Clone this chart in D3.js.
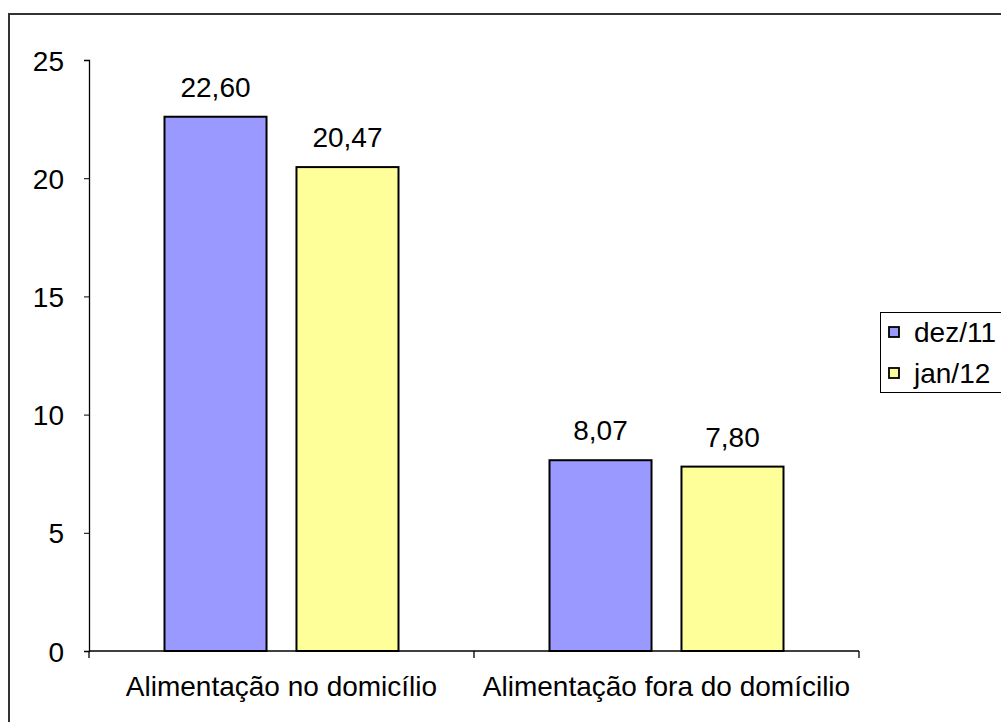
<!DOCTYPE html>
<html><head><meta charset="utf-8">
<script src="https://cdn.jsdelivr.net/npm/d3@7"></script>
<style>body{margin:0;background:#fff}svg{display:block}text{font-family:"Liberation Sans",Arial,sans-serif}</style>
</head><body>
<svg id="c" width="1001" height="722"></svg>
<script>
const categories = ["Alimentação no domicílio", "Alimentação fora do domícilio"];
const seriesNames = ["dez/11", "jan/12"];
const dez11 = [22.60, 8.07];
const jan12 = [20.47, 7.80];
const yTicks = [0, 5, 10, 15, 20, 25];
const colors = ["#9999ff", "#ffff99"];
const FS = 28;

const svg = d3.select("#c");
// outer frame
svg.append("rect").attr("x", 9).attr("y", 14).attr("width", 1010).attr("height", 720)
  .attr("fill", "none").attr("stroke", "#333").attr("stroke-width", 2);

const mLeft = 89, mRight = 859, mTop = 60, mBottom = 651;
const x0 = d3.scaleBand().domain(categories).range([mLeft, mRight]).paddingInner(0).paddingOuter(0);
const x1 = d3.scaleBand().domain(seriesNames).range([75.5, x0.bandwidth() - 75.5]).paddingInner(0.227);
const y = d3.scaleLinear().domain([0, 25]).range([mBottom, mTop]);

const series = [dez11, jan12];
const g = svg.append("g");
categories.forEach((c, i) => {
  series.forEach((s, j) => {
    const bx = x0(c) + x1(seriesNames[j]);
    g.append("rect").attr("x", bx).attr("y", y(s[i])).attr("width", x1.bandwidth())
      .attr("height", y(0) - y(s[i])).attr("fill", colors[j]).attr("stroke", "#000").attr("stroke-width", 2);
    g.append("text").attr("x", bx + x1.bandwidth() / 2).attr("y", y(s[i]) - 20)
      .attr("text-anchor", "middle").attr("font-size", FS).attr("fill", "#000")
      .text(d3.format(".2f")(s[i]).replace(".", ","));
  });
});

// y axis
const ya = svg.append("g").attr("transform", `translate(${mLeft},0)`)
  .call(d3.axisLeft(y).tickValues(yTicks).tickSize(5).tickPadding(20).tickFormat(d => d));
ya.attr("font-size", FS).attr("font-family", null);
ya.selectAll("text").attr("font-size", FS).attr("fill", "#000").attr("dy", "0.36em");
ya.select(".domain").attr("stroke", "#000").attr("stroke-width", 1.3);
ya.selectAll(".tick line").attr("stroke", "#000");

// x axis
const xa = svg.append("g").attr("transform", `translate(0,${mBottom})`);
xa.append("line").attr("x1", mLeft).attr("x2", mRight).attr("y1", 0).attr("y2", 0).attr("stroke", "#000").attr("stroke-width", 1.3);
[mLeft, ...categories.map(c => x0(c) + x0.bandwidth())].forEach(t => {
  xa.append("line").attr("x1", t).attr("x2", t).attr("y1", 0).attr("y2", 7).attr("stroke", "#000").attr("stroke-width", 1.3);
});
categories.forEach(c => {
  xa.append("text").attr("x", x0(c) + x0.bandwidth() / 2).attr("y", 45).attr("text-anchor", "middle")
    .attr("font-size", FS).attr("fill", "#000").text(c);
});

// legend
const lg = svg.append("g");
lg.append("rect").attr("x", 880.5).attr("y", 312.5).attr("width", 130).attr("height", 80)
  .attr("fill", "#fff").attr("stroke", "#000").attr("stroke-width", 1);
seriesNames.forEach((n, i) => {
  const yy = 332 + i * 41;
  lg.append("rect").attr("x", 889).attr("y", yy - 5).attr("width", 10).attr("height", 10)
    .attr("fill", colors[i]).attr("stroke", "#000").attr("stroke-width", 1.8);
  lg.append("text").attr("x", 914).attr("y", yy + 10).attr("font-size", FS).attr("fill", "#000").text(n);
});
</script>
</body></html>
